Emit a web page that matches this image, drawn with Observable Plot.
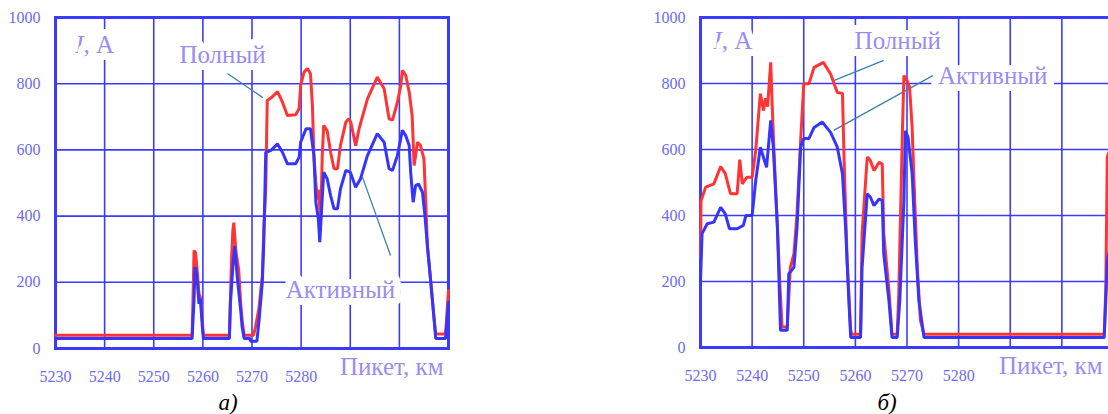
<!DOCTYPE html>
<html><head><meta charset="utf-8">
<script src="https://cdn.jsdelivr.net/npm/d3@7"></script>
<script src="https://cdn.jsdelivr.net/npm/@observablehq/plot@0.6"></script>
<style>
html,body{margin:0;padding:0;background:#fff;}
#wrap{position:relative;width:1108px;height:414px;overflow:hidden;background:#fff;font-family:"Liberation Serif","DejaVu Serif",serif;}
.panel{position:absolute;top:0;}
.cap{position:absolute;top:391px;font-style:italic;font-size:23px;line-height:23px;color:#000;transform:translateX(-50%);font-family:"Liberation Serif",serif;}
</style></head><body><div id="wrap"></div>
<script>
// ---- data: [пикет, км ; ток, А] ----
const xDomain = [5230, 5310];
const yDomain = [0, 1000];
const xTickLabels = [5230, 5240, 5250, 5260, 5270, 5280];
const xGrid = [5240, 5250, 5260, 5270, 5280, 5290, 5300];
const yTickLabels = [0, 200, 400, 600, 800, 1000];
const yGrid = [200, 400, 600, 800];

// panel a) — Полный (full)
const aFull = [[5230,40],[5257.8,40],[5258.0,155],[5258.2,296],[5258.5,290],[5258.9,226],[5259.2,166],[5259.5,155],[5259.9,85],[5260.1,40],[5265.4,40],[5265.6,145],[5265.8,256],[5266.1,356],[5266.3,380],[5266.7,296],[5267.3,236],[5267.7,135],[5268.0,85],[5268.4,40],[5270.3,40],[5270.7,64],[5271.4,120],[5272.1,220],[5272.4,356],[5272.8,483],[5273.1,749],[5274.1,760],[5275.2,776],[5276.2,744],[5277.2,704],[5278.9,706],[5279.6,725],[5279.9,795],[5280.6,835],[5281.3,846],[5281.9,830],[5282.3,734],[5282.6,583],[5283.0,500],[5283.3,450],[5283.5,480],[5284.0,390],[5284.3,583],[5284.6,674],[5285.3,658],[5286.0,593],[5286.7,543],[5287.4,543],[5288.0,613],[5289.1,684],[5289.7,694],[5290.1,684],[5291.1,613],[5291.8,664],[5293.5,754],[5295.5,820],[5296.9,785],[5297.9,694],[5298.6,690],[5299.6,744],[5300.3,795],[5300.6,840],[5301.3,825],[5302.0,774],[5302.6,704],[5303.0,553],[5303.7,623],[5304.3,613],[5305.0,573],[5305.4,432],[5305.7,311],[5306.4,200],[5307.0,100],[5307.4,44],[5309.4,44],[5310,175]];
// panel a) — Активный (active)
const aActive = [[5230,30],[5257.8,30],[5258.2,145],[5258.4,246],[5258.6,240],[5258.9,196],[5259.2,135],[5259.5,150],[5259.9,64],[5260.1,30],[5265.4,30],[5265.6,135],[5266.1,246],[5266.5,310],[5267.0,215],[5267.7,115],[5268.0,64],[5268.4,30],[5269.6,30],[5269.7,22],[5271.0,22],[5271.4,80],[5272.1,200],[5272.4,320],[5272.8,593],[5273.8,598],[5275.2,618],[5276.2,593],[5277.2,558],[5278.9,558],[5279.6,578],[5279.9,623],[5281.0,664],[5281.9,664],[5282.6,583],[5283.0,442],[5283.5,392],[5283.8,321],[5284.1,402],[5284.6,533],[5285.3,513],[5286.0,462],[5286.7,422],[5287.4,422],[5288.0,482],[5289.1,538],[5290.0,533],[5291.1,487],[5292.1,513],[5293.5,583],[5295.5,649],[5296.9,623],[5297.9,543],[5298.6,538],[5299.6,583],[5300.6,659],[5301.3,643],[5302.0,613],[5302.3,533],[5302.8,442],[5303.3,492],[5303.9,497],[5304.7,472],[5305.2,402],[5305.7,311],[5306.4,200],[5307.0,100],[5307.4,30],[5309.4,30],[5310,140]];

// panel б) — Полный (full)
const bFull = [[5230,270],[5230.1,445],[5231.0,486],[5232.6,496],[5233.9,548],[5234.8,527],[5235.8,466],[5237.1,466],[5237.6,569],[5238.1,496],[5239.0,516],[5240.0,516],[5240.7,597],[5241.3,713],[5241.6,769],[5242.2,718],[5242.6,755],[5243.0,730],[5243.6,864],[5243.9,730],[5244.2,607],[5244.9,364],[5245.4,183],[5245.8,62],[5246.8,62],[5247.4,243],[5248.1,284],[5248.7,405],[5249.4,627],[5250.0,799],[5251.0,799],[5252.0,849],[5253.8,864],[5255.2,829],[5256.5,773],[5257.5,770],[5257.8,577],[5258.4,264],[5259.1,52],[5259.3,40],[5261.0,40],[5261.3,345],[5262.3,577],[5262.9,567],[5263.6,536],[5264.6,561],[5265.2,556],[5265.5,345],[5266.5,173],[5267.1,40],[5268.1,40],[5268.4,160],[5269.1,647],[5269.4,824],[5270.0,809],[5270.5,789],[5271.0,667],[5271.3,526],[5272.0,243],[5272.6,82],[5273.3,40],[5308.2,40],[5308.5,173],[5308.8,577],[5309.3,600]];
// panel б) — Активный (active)
const bActive = [[5230,200],[5230.3,345],[5231.3,375],[5232.6,380],[5233.9,425],[5234.8,405],[5235.6,360],[5237.1,360],[5238.3,370],[5238.8,400],[5240.0,400],[5240.7,506],[5241.6,607],[5242.4,566],[5242.8,546],[5243.6,688],[5244.1,607],[5244.9,364],[5245.5,52],[5246.8,52],[5247.1,223],[5248.1,243],[5248.7,364],[5249.4,607],[5250.0,633],[5251.0,633],[5252.0,667],[5253.6,683],[5255.2,652],[5256.5,607],[5257.5,526],[5258.1,364],[5258.8,122],[5259.1,30],[5261.0,30],[5261.3,243],[5262.3,466],[5262.9,456],[5263.6,430],[5264.6,450],[5265.2,445],[5265.5,283],[5266.5,142],[5267.1,30],[5268.1,30],[5268.6,142],[5269.4,445],[5269.7,657],[5270.2,637],[5271.0,526],[5271.6,324],[5272.3,142],[5273.3,30],[5308.2,30],[5308.5,142],[5308.8,263],[5309.3,300]];

const labelFull = "Полный";
const labelActive = "Активный";
const labelY = ", А";
const labelYVar = "I";
const labelX = "Пикет, км";

// ---- styles ----
const GRID = "#3b3bff";
const RED = "#ff3434";
const BLUE = "#3535ff";
const TICK = "#6b6bf5";
const LABEL = "#9a8cf2";
const LEADER = "#3d80b0";
const FONT = "'Liberation Serif', 'DejaVu Serif', serif";

function makePanel(cfg) {
  const textOpts = {fontSize: 25, fill: LABEL, stroke: "white", strokeWidth: 14, fontFamily: FONT};
  return Plot.plot({
    width: cfg.width, height: 392,
    marginLeft: cfg.marginLeft, marginRight: cfg.marginRight,
    marginTop: 17, marginBottom: cfg.marginBottom,
    x: {domain: xDomain},
    y: {domain: yDomain},
    style: {fontFamily: FONT, fontSize: "16px", color: TICK, background: "white", overflow: "visible"},
    marks: [
      Plot.gridX(xGrid, {stroke: GRID, strokeOpacity: 1, strokeWidth: 1.6}),
      Plot.gridY(yGrid, {stroke: GRID, strokeOpacity: 1, strokeWidth: 1.6}),
      Plot.text([labelYVar], {x: cfg.iPos[0], y: cfg.iPos[1], text: d => d, textAnchor: "start", fontStyle: "italic", ...textOpts}),
      Plot.text([labelY], {x: cfg.aPos[0], y: cfg.aPos[1], text: d => d, textAnchor: "start", ...textOpts}),
      Plot.text([labelFull], {x: cfg.fullPos[0], y: cfg.fullPos[1], text: d => d, ...textOpts}),
      Plot.text([labelActive], {x: cfg.actPos[0], y: cfg.actPos[1], text: d => d, ...textOpts}),
      Plot.link([cfg.fullLeader, cfg.actLeader], {x1: d => d[0], y1: d => d[1], x2: d => d[2], y2: d => d[3], stroke: LEADER, strokeWidth: 1.3}),
      Plot.frame({stroke: GRID, strokeWidth: 3}),
      Plot.line(cfg.full, {x: d => d[0], y: d => d[1], stroke: RED, strokeWidth: 3, strokeLinejoin: "miter"}),
      Plot.line(cfg.active, {x: d => d[0], y: d => d[1], stroke: BLUE, strokeWidth: 3, strokeLinejoin: "miter"}),
      Plot.axisX(xTickLabels, {tickSize: 0, tickPadding: 22, fontSize: 16, fontFamily: FONT, label: null, tickFormat: d => String(d)}),
      Plot.axisY(yTickLabels, {tickSize: 0, tickPadding: 15, fontSize: 16, fontFamily: FONT, label: null, tickFormat: d => String(d)}),
      Plot.text([labelX], {frameAnchor: "bottom-right", text: d => d, textAnchor: "end", dx: cfg.xLabelDx, dy: 26, fontSize: 25, fill: LABEL, fontFamily: FONT})
    ]
  });
}

const wrap = document.getElementById("wrap");

const pa = makePanel({
  width: 460, marginLeft: 55, marginRight: 12, marginBottom: 44,
  full: aFull, active: aActive,
  iPos: [5234.0, 918], aPos: [5235.7, 918],
  fullPos: [5264.0, 888], actPos: [5288.0, 178],
  fullLeader: [5265.0, 831, 5272.2, 758], actLeader: [5292.5, 517, 5298.2, 281],
  xLabelDx: -5
});
pa.classList.add("panel"); pa.style.left = "0px";
wrap.appendChild(pa);

const pb = makePanel({
  width: 490, marginLeft: 60, marginRight: 17, marginBottom: 45,
  full: bFull, active: bActive,
  iPos: [5232.5, 930], aPos: [5234.1, 930],
  fullPos: [5268.2, 930], actPos: [5286.6, 824],
  fullLeader: [5265.5, 870, 5255.8, 809], actLeader: [5275.0, 824, 5255.8, 658],
  xLabelDx: -11
});
pb.classList.add("panel"); pb.style.left = "640px";
wrap.appendChild(pb);

const ca = document.createElement("div"); ca.className = "cap"; ca.style.left = "228px"; ca.textContent = "а)"; wrap.appendChild(ca);
const cb = document.createElement("div"); cb.className = "cap"; cb.style.left = "887px"; cb.textContent = "б)"; wrap.appendChild(cb);
</script>
</body></html>
